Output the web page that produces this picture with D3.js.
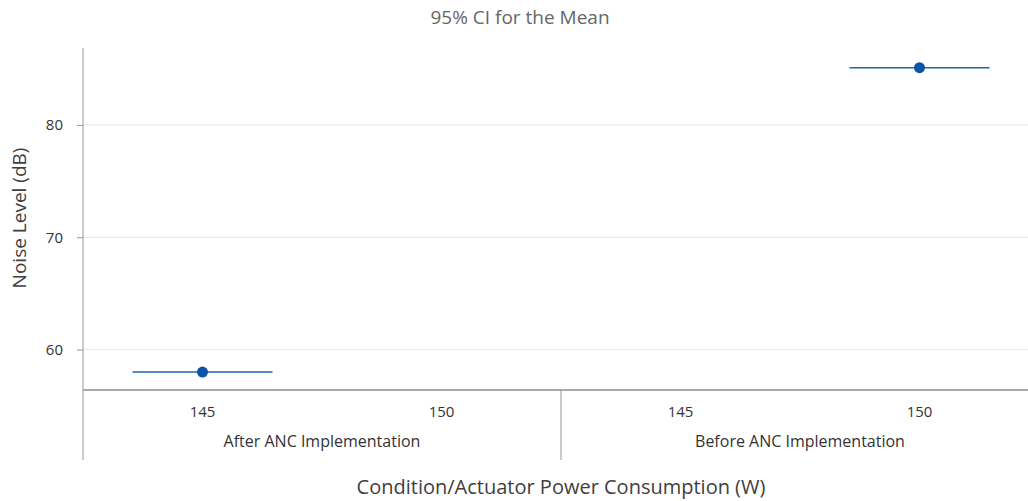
<!DOCTYPE html>
<html>
<head>
<meta charset="utf-8">
<script src="https://cdn.jsdelivr.net/npm/d3@7"></script>
<style>
  body { margin: 0; background: #fff; }
  svg { display: block; font-family: "Open Sans", "Noto Sans", sans-serif; }
</style>
</head>
<body>
<svg id="chart" width="1028" height="501"></svg>
<script>
// ── Data ──
const groups = ["After ANC Implementation", "Before ANC Implementation"];
const powers = ["145", "150"];
// one mean per plotted cell (group, power)
const means = [
  { group: "After ANC Implementation", power: "145", mean: 58.0 },
  { group: "Before ANC Implementation", power: "150", mean: 85.1 }
];
const yTicks = [60, 70, 80];

// ── Layout ──
const svg = d3.select("#chart");
const plotL = 83, plotR = 1039, plotT = 48, plotB = 390;
const catBottom = 460;

const cells = groups.flatMap(g => powers.map(p => g + "|" + p));

const x = d3.scaleBand()
  .domain(cells)
  .range([plotL, plotR]);

const y = d3.scaleLinear()
  .domain([56.4, 86.85])
  .range([plotB, plotT]);

// Gridlines
svg.append("g")
  .selectAll("line")
  .data(yTicks)
  .join("line")
  .attr("x1", plotL).attr("x2", plotR)
  .attr("y1", d => y(d)).attr("y2", d => y(d))
  .attr("stroke", "#e6e6e6")
  .attr("stroke-width", 1);

// Y axis
const yAxis = svg.append("g")
  .attr("transform", `translate(${plotL},0)`)
  .call(d3.axisLeft(y).tickValues(yTicks).tickSize(6).tickPadding(14).tickSizeOuter(0));
yAxis.select(".domain").remove();
yAxis.selectAll(".tick line").attr("stroke", "#999");
yAxis.selectAll(".tick text")
  .attr("fill", "#333")
  .style("font-family", "'Open Sans', sans-serif")
  .style("font-size", "15px");

svg.append("line")
  .attr("x1", plotL).attr("x2", plotL)
  .attr("y1", plotT).attr("y2", catBottom)
  .attr("stroke", "#999");

// X axis line
svg.append("line")
  .attr("x1", plotL).attr("x2", plotR)
  .attr("y1", plotB).attr("y2", plotB)
  .attr("stroke", "#aaa")
  .attr("stroke-width", 2);

// Power tick labels
svg.append("g")
  .selectAll("text")
  .data(cells)
  .join("text")
  .attr("x", d => x(d) + x.bandwidth() / 2)
  .attr("y", plotB + 27)
  .attr("text-anchor", "middle")
  .attr("fill", "#333")
  .style("font-size", "15px")
  .text(d => d.split("|")[1]);

// Group labels and separators
const groupW = x.bandwidth() * powers.length;
svg.append("g")
  .selectAll("text")
  .data(groups)
  .join("text")
  .attr("x", (d, i) => plotL + groupW * i + groupW / 2)
  .attr("y", plotB + 57)
  .attr("text-anchor", "middle")
  .attr("fill", "#333")
  .style("font-size", "16px")
  .text(d => d);

svg.append("g")
  .selectAll("line")
  .data(groups.slice(1))
  .join("line")
  .attr("x1", (d, i) => plotL + groupW * (i + 1))
  .attr("x2", (d, i) => plotL + groupW * (i + 1))
  .attr("y1", plotB).attr("y2", catBottom)
  .attr("stroke", "#999");

// Mean markers
const half = 70;
const marks = svg.append("g")
  .selectAll("g")
  .data(means)
  .join("g")
  .attr("transform", d => `translate(${x(d.group + "|" + d.power) + x.bandwidth() / 2},${y(d.mean)})`);

marks.append("line")
  .attr("x1", -half).attr("x2", half)
  .attr("stroke", "#1f62b3")
  .attr("stroke-width", 1.5);

marks.append("circle")
  .attr("r", 5.5)
  .attr("fill", "#0b55a6");

// Titles
svg.append("text")
  .attr("x", 520).attr("y", 24)
  .attr("text-anchor", "middle")
  .attr("fill", "#666")
  .style("font-size", "19px")
  .text("95% CI for the Mean");

svg.append("text")
  .attr("x", 561).attr("y", 494)
  .attr("text-anchor", "middle")
  .attr("fill", "#404040")
  .style("font-size", "20px")
  .text("Condition/Actuator Power Consumption (W)");

svg.append("text")
  .attr("transform", "translate(26,218) rotate(-90)")
  .attr("text-anchor", "middle")
  .attr("fill", "#404040")
  .style("font-size", "19px")
  .text("Noise Level (dB)");
</script>
</body>
</html>
